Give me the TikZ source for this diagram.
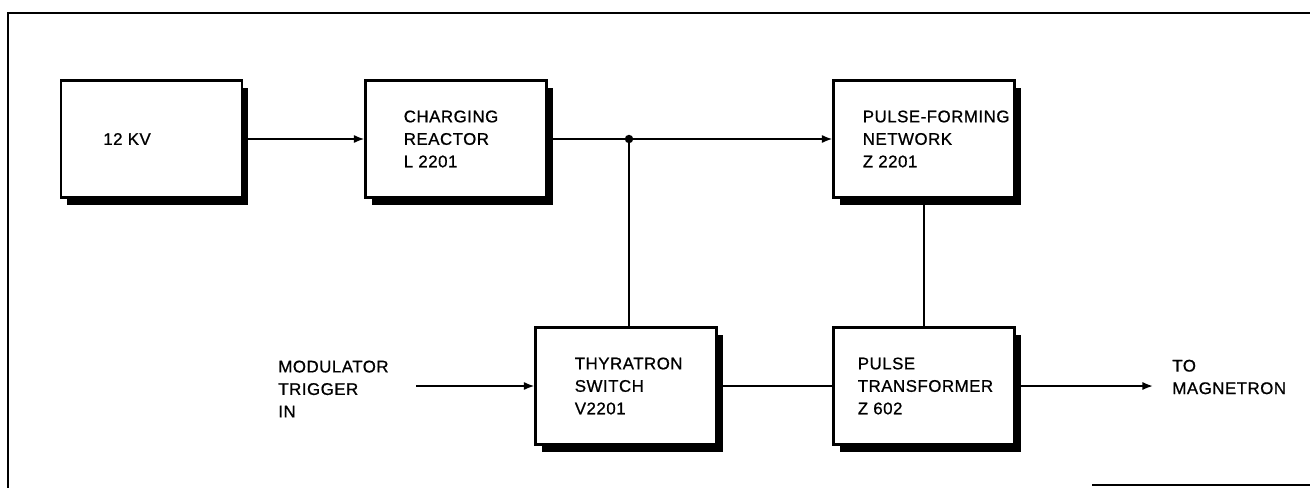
\documentclass[tikz,border=0pt]{standalone}
\usepackage{fontspec}
\setmainfont{Liberation Sans}[FakeBold=0.8,LetterSpace=3]
\usetikzlibrary{positioning,arrows.meta,shadows}

\tikzset{
  blk/.style={draw,line width=1.2pt,fill=white,minimum width=3.62cm,minimum height=2.34cm,
    drop shadow={shadow xshift=3.6pt,shadow yshift=-4pt,fill=black,opacity=1}},
  lbl/.style={font=\fontsize{9.6}{12.8}\selectfont,align=left,inner sep=0pt},
  wire/.style={line width=1pt},
  flow/.style={wire,-{Latex[length=6pt,width=4.6pt]}}
}

\begin{document}
\begin{tikzpicture}[x=0.02cm,y=-0.02cm]
  \useasboundingbox (0,0) rectangle (1310,487);
  % marco, cortado a la derecha y abajo
  \draw[line width=1.3pt] (1310,13) -- (8,13) -- (8,490);
  \draw[line width=1pt] (1092,485) -- (1310,485);
  % bloques
  \node[blk] (kv) at (151.5,139) {};
  \node[blk] (reactor) at (456,139) {};
  \node[blk] (pfn) at (924,139) {};
  \node[blk] (thyr) at (626,386) {};
  \node[blk] (pt) at (924,386) {};
  % textos de los bloques
  \node[lbl,right=0.86cm of kv.west] (kvtxt) {12 KV};
  \node[lbl,right=0.78cm of reactor.west] (reactortxt) {CHARGING\\REACTOR\\L 2201};
  \node[lbl,right=0.6cm of pfn.west] (pfntxt) {PULSE-FORMING\\NETWORK\\Z 2201};
  \node[lbl,right=0.8cm of thyr.west] (thyrtxt) {THYRATRON\\SWITCH\\V2201};
  \node[lbl,right=0.5cm of pt.west] (pttxt) {PULSE\\TRANSFORMER\\Z 602};
  % entrada y salida
  \node[lbl,anchor=west] (trig) at (278,389) {MODULATOR\\TRIGGER\\IN};
  \node[lbl,anchor=west] (mag) at (1172,377) {TO\\MAGNETRON};
  \coordinate (trigin) at (416,386);
  \coordinate (magout) at (1153,386);
  \coordinate (junc) at (629,139);
  % conexiones
  \draw[flow] (kv.east) -- (reactor.west);
  \draw[flow] (reactor.east) -- (pfn.west);
  \fill (junc) circle (2.4pt);
  \draw[wire] (junc) -- (junc |- thyr.north);
  \draw[wire] (pfn.south) -- (pt.north);
  \draw[flow] (trigin) -- (thyr.west);
  \draw[wire] (thyr.east) -- (pt.west);
  \draw[flow] (pt.east) -- (magout);
\end{tikzpicture}
\end{document}
